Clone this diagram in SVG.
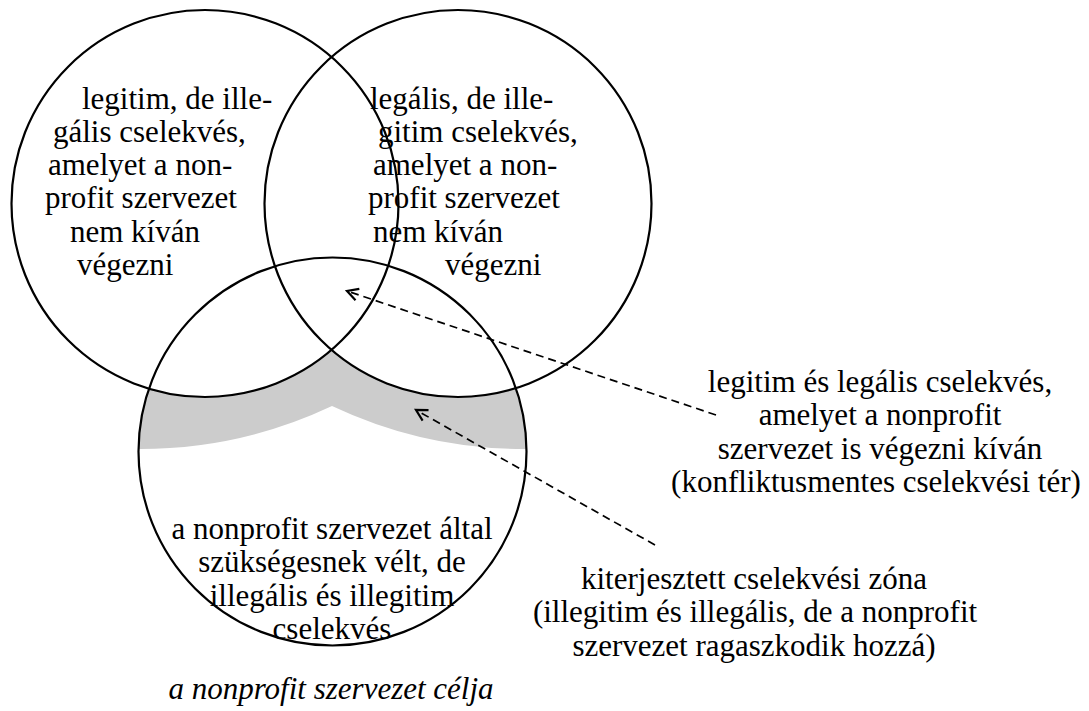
<svg xmlns="http://www.w3.org/2000/svg" width="1089" height="711" viewBox="0 0 1089 711">
<style>
.c{fill:none;stroke:#000;stroke-width:2.2}
.d{fill:none;stroke:#000;stroke-width:1.7;stroke-dasharray:8,5}
</style>
<defs>
<marker id="ah" markerWidth="16" markerHeight="16" refX="13" refY="8" orient="auto" markerUnits="userSpaceOnUse">
<polyline points="2,2 13,8 2,14" fill="none" stroke="#000" stroke-width="2.2"/>
</marker>
</defs>
<rect width="1089" height="711" fill="#fff"/>
<g id="zone">
<path d="M138.5,449 A450,450 0 0 0 332,406 A450,450 0 0 0 526.5,449 A194,194 0 0 0 515,388.7 A193.5,193.5 0 0 1 331.5,350 A193.5,193.5 0 0 1 149,388.7 A194,194 0 0 0 138.5,449 Z" fill="#cccccc"/>
</g>
<g id="circle-legitim">
<circle class="c" cx="205" cy="203.5" r="193.5"/>
<text x="82" y="109" font-family="Liberation Serif" font-size="31">legitim, de ille-</text>
<text x="53" y="142" font-family="Liberation Serif" font-size="31">gális cselekvés,</text>
<text x="48" y="175" font-family="Liberation Serif" font-size="31">amelyet a non-</text>
<text x="45" y="208" font-family="Liberation Serif" font-size="31">profit szervezet</text>
<text x="70" y="242" font-family="Liberation Serif" font-size="31">nem kíván</text>
<text x="77" y="275" font-family="Liberation Serif" font-size="31">végezni</text>
</g>
<g id="circle-legalis">
<circle class="c" cx="458" cy="203.5" r="193.5"/>
<text x="370" y="109" font-family="Liberation Serif" font-size="31">legális, de ille-</text>
<text x="378" y="142" font-family="Liberation Serif" font-size="31">gitim cselekvés,</text>
<text x="373" y="175" font-family="Liberation Serif" font-size="31">amelyet a non-</text>
<text x="368" y="208" font-family="Liberation Serif" font-size="31">profit szervezet</text>
<text x="373" y="242" font-family="Liberation Serif" font-size="31">nem kíván</text>
<text x="445" y="275" font-family="Liberation Serif" font-size="31">végezni</text>
</g>
<g id="circle-cel">
<circle class="c" cx="332.5" cy="451.5" r="194"/>
<text x="332" y="539" font-family="Liberation Serif" font-size="31" text-anchor="middle">a nonprofit szervezet által</text>
<text x="332" y="572" font-family="Liberation Serif" font-size="31" text-anchor="middle">szükségesnek vélt, de</text>
<text x="332" y="606" font-family="Liberation Serif" font-size="31" text-anchor="middle">illegális és illegitim</text>
<text x="332" y="639" font-family="Liberation Serif" font-size="31" text-anchor="middle">cselekvés</text>
</g>
<g id="label-cel">
<text x="331" y="699" font-family="Liberation Serif" font-size="31" font-style="italic" text-anchor="middle">a nonprofit szervezet célja</text>
</g>
<g id="label-konfliktusmentes">
<text x="880" y="392" font-family="Liberation Serif" font-size="31" text-anchor="middle">legitim és legális cselekvés,</text>
<text x="880" y="425" font-family="Liberation Serif" font-size="31" text-anchor="middle">amelyet a nonprofit</text>
<text x="880" y="459" font-family="Liberation Serif" font-size="31" text-anchor="middle">szervezet is végezni kíván</text>
<text x="876" y="492" font-family="Liberation Serif" font-size="31" text-anchor="middle">(konfliktusmentes cselekvési tér)</text>
</g>
<g id="label-kiterjesztett">
<text x="754" y="589" font-family="Liberation Serif" font-size="31" text-anchor="middle">kiterjesztett cselekvési zóna</text>
<text x="755" y="622" font-family="Liberation Serif" font-size="31" text-anchor="middle">(illegitim és illegális, de a nonprofit</text>
<text x="754" y="656" font-family="Liberation Serif" font-size="31" text-anchor="middle">szervezet ragaszkodik hozzá)</text>
</g>
<g id="connectors">
<line class="d" x1="716" y1="415" x2="347" y2="291" marker-end="url(#ah)"/>
<line class="d" x1="655" y1="545" x2="416" y2="410" marker-end="url(#ah)"/>
</g>
</svg>
